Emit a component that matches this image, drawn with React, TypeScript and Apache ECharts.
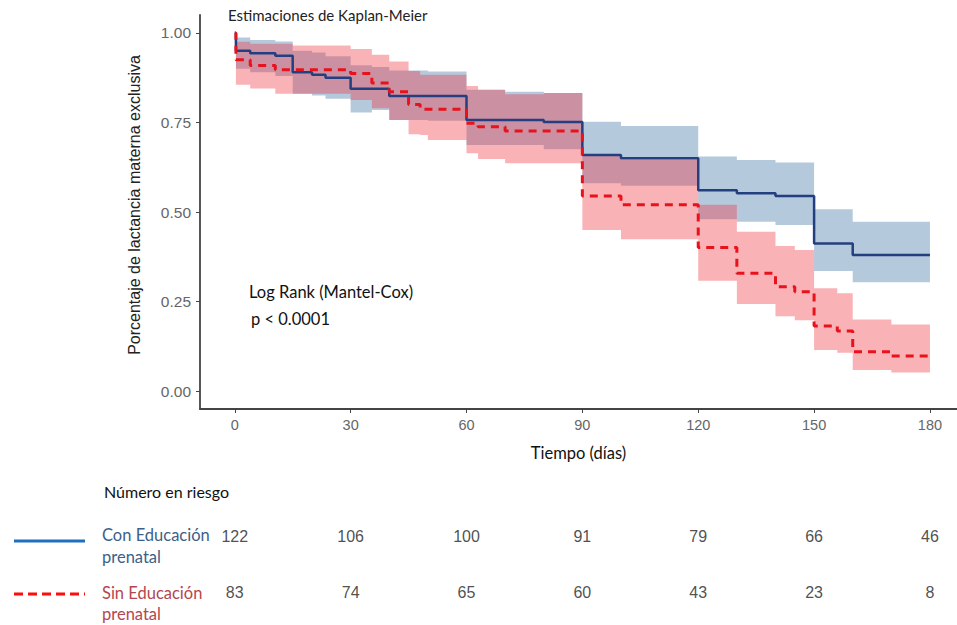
import React, { useEffect, useRef } from "react";
import * as echarts from "echarts";

// Kaplan-Meier estimates (piecewise constant from each time)
const conTimes = [0, 0.3, 4, 10.5, 15, 20, 23.5, 30, 35.5, 40, 50, 60, 70, 80, 90, 100, 120, 130, 140, 150, 160, 180];
const conSurv = [1.0, 0.95, 0.943, 0.936, 0.89, 0.883, 0.875, 0.844, 0.844, 0.824, 0.824, 0.757, 0.757, 0.751, 0.659, 0.65, 0.561, 0.552, 0.545, 0.412, 0.38, 0.38];
const conLower = [1.0, 0.9, 0.89, 0.88, 0.83, 0.825, 0.816, 0.778, 0.785, 0.757, 0.755, 0.687, 0.687, 0.675, 0.58, 0.573, 0.48, 0.473, 0.464, 0.335, 0.304, 0.304];
const conUpper = [1.0, 0.987, 0.98, 0.976, 0.95, 0.945, 0.935, 0.91, 0.905, 0.895, 0.892, 0.841, 0.836, 0.832, 0.752, 0.74, 0.655, 0.645, 0.638, 0.508, 0.473, 0.473];

const sinTimes = [0, 0.3, 4, 10.5, 15, 30, 35.5, 40, 45, 48, 50, 60, 63, 70, 80, 90, 100, 120, 130, 140, 145, 150, 156, 160, 170, 180];
const sinSurv = [1.0, 0.925, 0.909, 0.897, 0.897, 0.887, 0.86, 0.836, 0.8, 0.787, 0.787, 0.748, 0.738, 0.726, 0.726, 0.545, 0.52, 0.401, 0.329, 0.291, 0.277, 0.182, 0.168, 0.11, 0.098, 0.098];
const sinLower = [1.0, 0.855, 0.845, 0.83, 0.83, 0.813, 0.79, 0.757, 0.717, 0.715, 0.701, 0.664, 0.648, 0.636, 0.636, 0.45, 0.424, 0.308, 0.243, 0.209, 0.198, 0.115, 0.107, 0.059, 0.052, 0.052];
const sinUpper = [1.0, 0.975, 0.97, 0.97, 0.965, 0.955, 0.939, 0.92, 0.894, 0.883, 0.883, 0.852, 0.841, 0.829, 0.832, 0.659, 0.645, 0.52, 0.445, 0.405, 0.394, 0.287, 0.273, 0.2, 0.186, 0.186];

// Number at risk table
const riskTimes = [0, 30, 60, 90, 120, 150, 180];
const riskCon = [122, 106, 100, 91, 79, 66, 46];
const riskSin = [83, 74, 65, 60, 43, 23, 8];

const xTicks = [0, 30, 60, 90, 120, 150, 180];
const yTicks = [0, 0.25, 0.5, 0.75, 1.0];

const pairs = (t: number[], v: number[]) => t.map((x, i) => [x, v[i]]);
// band intervals: [tStart, tEnd, lower, upper]
const intervals = (t: number[], lo: number[], up: number[]) =>
  t.slice(0, -1).map((x, i) => [x, t[i + 1], lo[i], up[i]]).filter((d) => d[3] - d[2] > 0);

const bandSeries = (name: string, data: number[][], color: string) => ({
  name,
  type: "custom",
  data,
  encode: { x: [0, 1], y: [2, 3] },
  silent: true,
  z: 1,
  renderItem: (params: any, api: any) => {
    if (params.dataIndex !== 0) return null;
    const upperPts: number[][] = [];
    const lowerPts: number[][] = [];
    data.forEach((d) => {
      upperPts.push(api.coord([d[0], d[3]]), api.coord([d[1], d[3]]));
      lowerPts.push(api.coord([d[0], d[2]]), api.coord([d[1], d[2]]));
    });
    const points = upperPts.concat(lowerPts.reverse());
    return { type: "polygon", shape: { points }, style: { fill: color } };
  },
});

export default function App() {
  const ref = useRef<HTMLDivElement>(null);
  useEffect(() => {
    if (!ref.current) return;
    const chart = echarts.init(ref.current, null, { renderer: "svg" });
    const riskLabel = {
      show: true,
      position: "inside",
      formatter: (p: any) => String(p.value[2]),
      color: "#222",
      fontFamily: "Liberation Sans",
      fontSize: 16,
    };
    chart.setOption({
      animation: false,
      grid: [
        { left: 200, right: 0, top: 15, bottom: 216 },
        { left: 200, right: 0, top: 536, bottom: 33 },
      ],
      xAxis: [
        {
          type: "value",
          gridIndex: 0,
          min: -9,
          max: 187,
          axisLine: { onZero: false, lineStyle: { color: "#444", width: 1.8 } },
          axisTick: { show: true, customValues: xTicks, length: 4, lineStyle: { color: "#444" } },
          axisLabel: { customValues: xTicks, color: "#666", fontFamily: "Liberation Sans", fontSize: 14.5, margin: 8 },
          splitLine: { show: false },
          name: "Tiempo (días)",
          nameLocation: "middle",
          nameGap: 35,
          nameTextStyle: { color: "#111", fontFamily: "Lato", fontSize: 16.5 },
        },
        { type: "value", gridIndex: 1, min: -9, max: 187, show: false },
      ],
      yAxis: [
        {
          type: "value",
          gridIndex: 0,
          min: -0.05,
          max: 1.05,
          axisLine: { show: true, onZero: false, lineStyle: { color: "#444", width: 1.8 } },
          axisTick: { show: true, customValues: yTicks, length: 4, lineStyle: { color: "#444" } },
          axisLabel: {
            customValues: yTicks,
            formatter: (v: number) => v.toFixed(2),
            color: "#666",
            fontFamily: "Liberation Sans",
            fontSize: 15.5,
            margin: 9,
          },
          splitLine: { show: false },
          name: "Porcentaje de lactancia materna exclusiva",
          nameLocation: "middle",
          nameGap: 58,
          nameTextStyle: { color: "#222", fontFamily: "Liberation Sans", fontSize: 16, padding: [0, 0, 0, 14] },
        },
        { type: "value", gridIndex: 1, min: 0, max: 1, show: false },
      ],
      series: [
        bandSeries("conBand", intervals(conTimes, conLower, conUpper), "rgba(70,120,170,0.4)"),
        bandSeries("sinBand", intervals(sinTimes, sinLower, sinUpper), "rgba(240,55,65,0.38)"),
        {
          name: "Con Educación prenatal",
          type: "line",
          step: "end",
          symbol: "none",
          data: pairs(conTimes, conSurv),
          lineStyle: { color: "#243f80", width: 2.5 },
          z: 3,
        },
        {
          name: "Sin Educación prenatal",
          type: "line",
          step: "end",
          symbol: "none",
          data: pairs(sinTimes, sinSurv),
          lineStyle: { color: "#e8121c", width: 3, type: [8, 6] },
          z: 4,
        },
        {
          name: "riskCon",
          type: "scatter",
          xAxisIndex: 1,
          yAxisIndex: 1,
          symbolSize: 1,
          itemStyle: { color: "rgba(0,0,0,0)" },
          data: riskTimes.map((t, i) => [t, 1, riskCon[i]]),
          label: riskLabel,
        },
        {
          name: "riskSin",
          type: "scatter",
          xAxisIndex: 1,
          yAxisIndex: 1,
          symbolSize: 1,
          itemStyle: { color: "rgba(0,0,0,0)" },
          data: riskTimes.map((t, i) => [t, 0, riskSin[i]]),
          label: riskLabel,
        },
      ],
      graphic: [
        { type: "text", left: 228, top: 7, style: { text: "Estimaciones de Kaplan-Meier", fill: "#222", font: "15px Lato" } },
        { type: "text", left: 249, top: 283, style: { text: "Log Rank (Mantel-Cox)", fill: "#111", font: "16.5px Lato" } },
        { type: "text", left: 251, top: 310, style: { text: "p < 0.0001", fill: "#111", font: "16.5px Lato" } },
        { type: "text", left: 104, top: 483, style: { text: "Número en riesgo", fill: "#111", font: "16px Lato" } },
        { type: "text", left: 102, top: 524, style: { text: "Con Educación\nprenatal", fill: "#3d5f88", font: "16.5px Lato", lineHeight: 22 } },
        { type: "text", left: 102, top: 582, style: { text: "Sin Educación\nprenatal", fill: "#b4464f", font: "16.5px Lato", lineHeight: 21 } },
        { type: "line", shape: { x1: 14, y1: 541, x2: 85, y2: 541 }, style: { stroke: "#1f6fc0", lineWidth: 3 } },
        { type: "line", shape: { x1: 14, y1: 594, x2: 85, y2: 594 }, style: { stroke: "#ff0d0d", lineWidth: 3, lineDash: [9, 5] } },
      ],
    });
    return () => chart.dispose();
  }, []);
  return <div ref={ref} style={{ width: 957, height: 625, position: "absolute", left: 0, top: 0 }} />;
}
